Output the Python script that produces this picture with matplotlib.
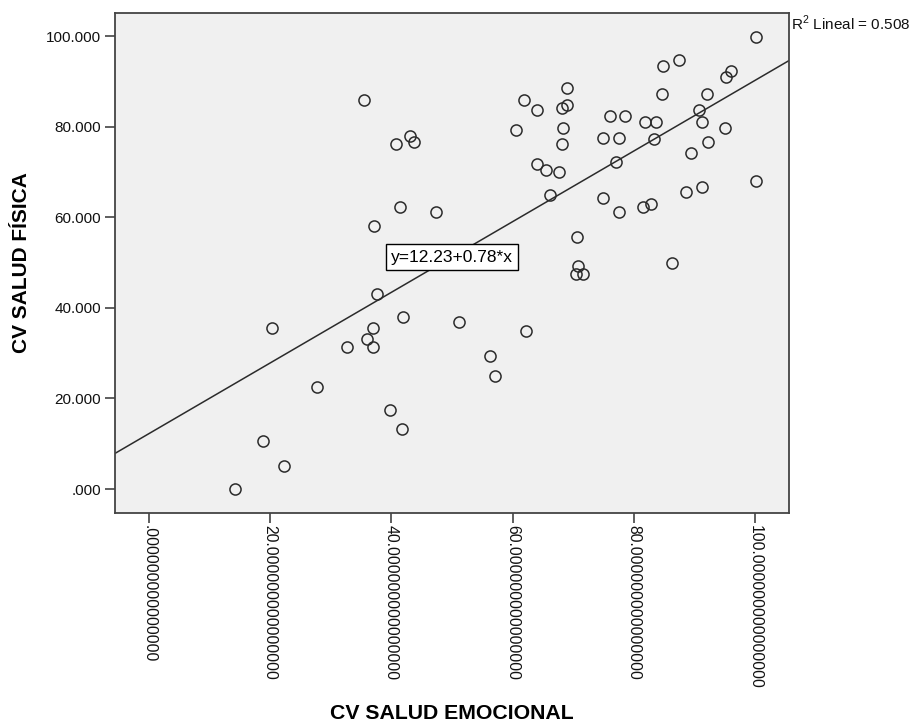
import matplotlib
matplotlib.use("Agg")
import matplotlib.pyplot as plt
from matplotlib.ticker import FuncFormatter

plt.rcParams['font.family'] = ['Liberation Sans', 'DejaVu Sans']
plt.rcParams['mathtext.fontset'] = 'custom'
plt.rcParams['mathtext.rm'] = 'Liberation Sans'

# CV SALUD EMOCIONAL (x) / CV SALUD FÍSICA (y)
emocional = [35.5, 43.1, 43.7, 40.8, 41.4, 47.4, 37.1,
             100.1, 87.4, 84.8, 96.0, 95.2, 69.0, 61.9, 84.7, 92.0, 64.1,
             68.2, 68.9, 90.8, 76.1, 78.5, 81.9, 83.6, 91.3, 60.6, 68.3,
             95.0, 74.9, 77.6, 83.4, 92.3, 68.2, 89.5, 77.1, 64.1, 65.5,
             67.6, 100.1, 91.3, 88.6, 66.1, 74.9, 77.6, 81.5, 82.9, 70.7,
             37.6, 41.9, 20.3, 36.9, 35.9, 32.6, 37.0, 27.7, 39.7, 41.8,
             18.9, 22.3, 14.2,
             70.8, 70.4, 71.7, 86.3, 51.2, 62.2, 56.2, 57.1]
fisica = [86.0, 78.0, 76.7, 76.1, 62.3, 61.1, 58.1,
          99.8, 94.8, 93.5, 92.3, 91.0, 88.5, 86.0, 87.3, 87.3, 83.6,
          84.1, 84.8, 83.6, 82.3, 82.3, 81.0, 81.0, 81.0, 79.2, 79.8,
          79.8, 77.4, 77.4, 77.3, 76.7, 76.1, 74.2, 72.3, 71.7, 70.5,
          69.9, 68.0, 66.7, 65.5, 65.0, 64.2, 61.1, 62.3, 63.0, 55.6,
          43.0, 38.0, 35.6, 35.6, 33.1, 31.3, 31.3, 22.5, 17.5, 13.2,
          10.7, 5.1, 0.0,
          49.3, 47.5, 47.5, 49.9, 36.9, 34.9, 29.4, 25.0]

intercept = 12.23
slope = 0.78
r2 = 0.508
x_ticks = [0, 20, 40, 60, 80, 100]
y_ticks = [0, 20, 40, 60, 80, 100]


def strip0(s):
    return s[1:] if s.startswith('0.') else s


fig = plt.figure(figsize=(9.14, 7.24), dpi=100)
ax = fig.add_axes([0.1258, 0.2914, 0.7374, 0.6906])
ax.set_facecolor('#F0F0F0')

xmin, xmax = -5.6, 105.6
ax.set_xlim(xmin, xmax)
ax.set_ylim(-5.3, 105.1)

# linea de ajuste
ax.plot([xmin, xmax], [intercept + slope * xmin, intercept + slope * xmax],
        color='#2b2b2b', lw=1.1, zorder=2)

ax.plot(emocional, fisica, 'o', mfc='none', mec='#2b2b2b', mew=1.1, ms=8, zorder=3)

xc = (xmin + xmax) / 2
ax.text(xc, intercept + slope * xc, f"y={intercept:.2f}+{slope:.2f}*x",
        fontsize=12.5, ha='center', va='center', zorder=4,
        bbox=dict(boxstyle='square,pad=0.3', fc='white', ec='black', lw=1))

ax.set_xticks(x_ticks)
ax.set_yticks(y_ticks)
ax.xaxis.set_major_formatter(FuncFormatter(lambda v, p: strip0(f"{v:.15f}")))
ax.yaxis.set_major_formatter(FuncFormatter(lambda v, p: strip0(f"{v:.3f}")))
ax.tick_params(axis='both', direction='out', length=7, width=1.1, color='#333333',
               labelcolor='#111111')
ax.tick_params(axis='x', pad=1.5, labelsize=11.3)
ax.tick_params(axis='y', pad=3, labelsize=11)
for lab in ax.get_xticklabels():
    lab.set_rotation(-90)
    lab.set_ha('center')
    lab.set_va('top')

for sp in ax.spines.values():
    sp.set_color('#444444')
    sp.set_linewidth(1.3)

ax.set_xlabel('CV SALUD EMOCIONAL', fontsize=15.3, fontweight='bold', va='center')
ax.xaxis.set_label_coords(0.5, -0.4)
ax.set_ylabel('CV SALUD FÍSICA', fontsize=15, fontweight='bold', va='center')
ax.yaxis.set_label_coords(-0.138, 0.5)

fig.text(791 / 914, 1 - 23 / 724, f"R$^2$ Lineal = {r2:.3f}", fontsize=11,
         ha='left', va='center', color='#111111')

fig.savefig('out.png', dpi=100)
